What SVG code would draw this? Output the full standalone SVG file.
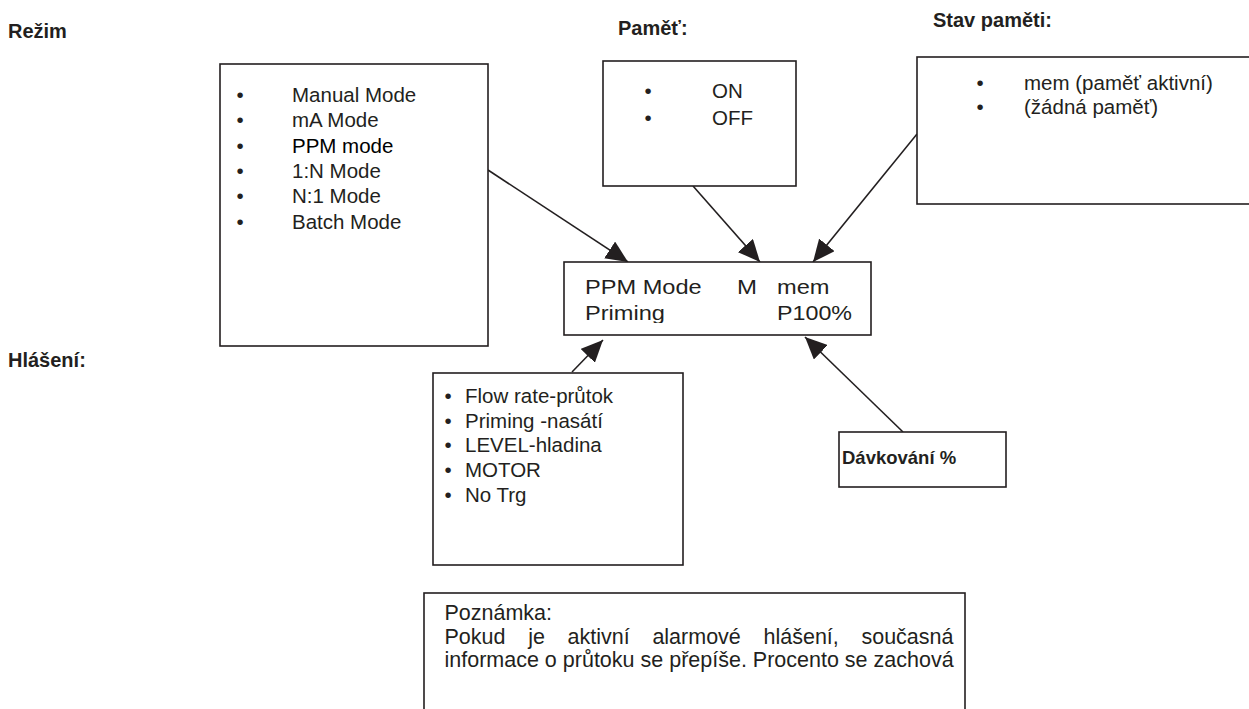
<svg xmlns="http://www.w3.org/2000/svg" width="1249" height="709" viewBox="0 0 1249 709">
<style>
text{font-family:"Liberation Sans",Arial,sans-serif;fill:#231f20}
.h{font-weight:bold;font-size:20px}
.t{font-size:20.5px}
.lcd{font-size:20.5px}
.n{font-size:21.5px}
.d{font-weight:bold;font-size:18.5px}
.box{fill:#fff;stroke:#231f20;stroke-width:1.6}
.c{stroke:#231f20;stroke-width:1.6;fill:none;marker-end:url(#ah)}
</style>
<defs>
<marker id="ah" viewBox="0 0 22 20" refX="22" refY="10" markerWidth="22" markerHeight="20" markerUnits="userSpaceOnUse" orient="auto">
<path d="M0,0 L22,10 L0,20 Z" fill="#231f20"/>
</marker>
<clipPath id="clipPrim"><rect x="570" y="290" width="290" height="33"/></clipPath>
</defs>
<rect width="1249" height="709" fill="#fff"/>

<g id="headings">
<text class="h" x="8" y="38">Režim</text>
<text class="h" x="618" y="35">Paměť:</text>
<text class="h" x="933" y="27">Stav paměti:</text>
<text class="h" x="8" y="367">Hlášení:</text>
</g>

<g id="connectors">
<path class="c" d="M488,170 L628,262"/>
<path class="c" d="M693,186 L760,262"/>
<path class="c" d="M917,134 L813,262"/>
<path class="c" d="M572,372 L603,340"/>
<path class="c" d="M903,432 L805,337"/>
</g>

<g id="mode">
<rect class="box" x="220" y="64" width="268" height="282"/>
<text class="t" x="240" y="102" text-anchor="middle">•</text>
<text class="t" x="240" y="127" text-anchor="middle">•</text>
<text class="t" x="240" y="153" text-anchor="middle">•</text>
<text class="t" x="240" y="178" text-anchor="middle">•</text>
<text class="t" x="240" y="203" text-anchor="middle">•</text>
<text class="t" x="240" y="229" text-anchor="middle">•</text>
<text class="t" x="292" y="102">Manual Mode</text>
<text class="t" x="292" y="127">mA Mode</text>
<text class="t" x="292" y="153" style="fill:#000">PPM mode</text>
<text class="t" x="292" y="178">1:N Mode</text>
<text class="t" x="292" y="203">N:1 Mode</text>
<text class="t" x="292" y="229">Batch Mode</text>
</g>

<g id="memory">
<rect class="box" x="603" y="61" width="193" height="125"/>
<text class="t" x="648" y="98" text-anchor="middle">•</text>
<text class="t" x="648" y="125" text-anchor="middle">•</text>
<text class="t" x="712" y="98">ON</text>
<text class="t" x="712" y="125">OFF</text>
</g>

<g id="memory-status">
<rect class="box" x="917" y="57" width="340" height="147"/>
<text class="t" x="980" y="90" text-anchor="middle">•</text>
<text class="t" x="980" y="114" text-anchor="middle">•</text>
<text class="t" x="1024" y="90">mem (paměť aktivní)</text>
<text class="t" x="1024" y="114">(žádná paměť)</text>
</g>

<g id="display">
<rect class="box" x="564" y="262" width="307" height="73"/>
<text class="lcd" x="585" y="294" textLength="116.7" lengthAdjust="spacingAndGlyphs">PPM Mode</text>
<text class="lcd" x="737" y="294" textLength="20" lengthAdjust="spacingAndGlyphs">M</text>
<text class="lcd" x="777" y="294" textLength="52.5" lengthAdjust="spacingAndGlyphs">mem</text>
<text class="lcd" x="585" y="320" textLength="80" lengthAdjust="spacingAndGlyphs" clip-path="url(#clipPrim)">Priming</text>
<text class="lcd" x="777" y="320" textLength="75" lengthAdjust="spacingAndGlyphs">P100%</text>
</g>

<g id="alarms">
<rect class="box" x="433" y="373" width="250" height="192"/>
<text class="t" x="448" y="403" text-anchor="middle">•</text>
<text class="t" x="448" y="428" text-anchor="middle">•</text>
<text class="t" x="448" y="452" text-anchor="middle">•</text>
<text class="t" x="448" y="477" text-anchor="middle">•</text>
<text class="t" x="448" y="502" text-anchor="middle">•</text>
<text class="t" x="465" y="403">Flow rate-průtok</text>
<text class="t" x="465" y="428">Priming -nasátí</text>
<text class="t" x="465" y="452">LEVEL-hladina</text>
<text class="t" x="465" y="477">MOTOR</text>
<text class="t" x="465" y="502">No Trg</text>
</g>

<g id="dosing">
<rect class="box" x="839" y="432" width="167" height="55"/>
<text class="d" x="842" y="464">Dávkování %</text>
</g>

<g id="note">
<rect class="box" x="424" y="593" width="541" height="130"/>
<text class="n" x="444.5" y="620">Poznámka:</text>
<text class="n" y="644"><tspan x="444.5">Pokud</tspan><tspan x="528.2">je</tspan><tspan x="567.6">aktivní</tspan><tspan x="652.4">alarmové</tspan><tspan x="763.5">hlášení,</tspan><tspan x="953.5" text-anchor="end">současná</tspan></text>
<text class="n" x="444.5" y="667">informace o průtoku se přepíše. Procento se zachová</text>
</g>
</svg>
